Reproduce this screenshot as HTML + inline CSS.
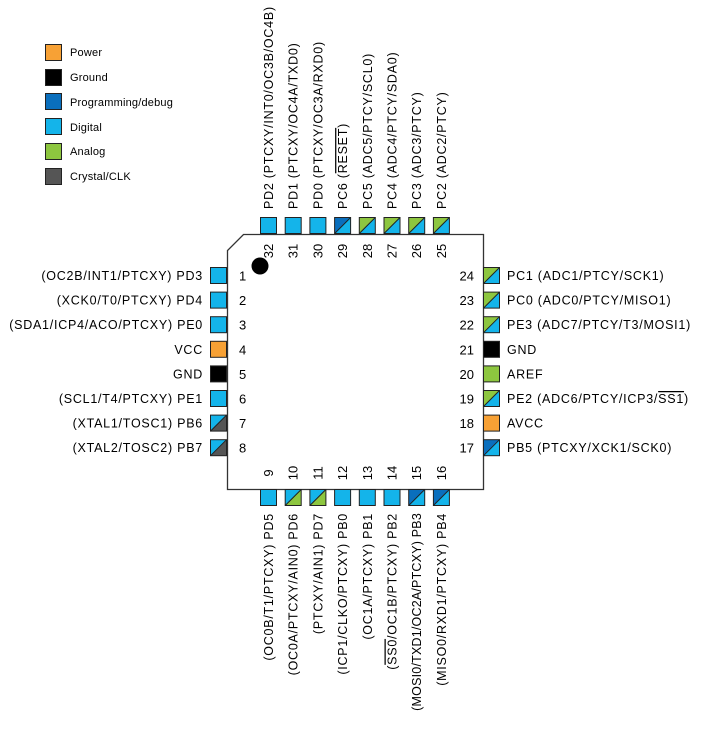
<!DOCTYPE html>
<html><head><meta charset="utf-8"><style>
html,body{margin:0;padding:0;background:#fff;}
svg{display:block;font-family:"Liberation Sans",Arial,sans-serif;}
</style></head><body>
<svg width="704" height="739" viewBox="0 0 704 739" xmlns="http://www.w3.org/2000/svg">
<defs>
<style>
.lg{font-size:11px;fill:#000;letter-spacing:0.2px}
.lb{font-size:12.5px;fill:#000;letter-spacing:0.75px}
.nm{font-size:13px;fill:#000}
.sq{stroke:#222;stroke-width:1}
</style>
</defs>
<g>
<rect x="45.5" y="44.5" width="16" height="16" fill="#f7a135" class="sq"/><text x="70" y="56" class="lg">Power</text>
<rect x="45.5" y="69.5" width="16" height="16" fill="#000" class="sq"/><text x="70" y="81" class="lg">Ground</text>
<rect x="45.5" y="93.5" width="16" height="16" fill="#0a6fbd" class="sq"/><text x="70" y="106" class="lg">Programming/debug</text>
<rect x="45.5" y="118.5" width="16" height="16" fill="#14b4ea" class="sq"/><text x="70" y="131" class="lg">Digital</text>
<rect x="45.5" y="143.5" width="16" height="16" fill="#8dc63f" class="sq"/><text x="70" y="155" class="lg">Analog</text>
<rect x="45.5" y="168.5" width="16" height="16" fill="#555" class="sq"/><text x="70" y="180" class="lg">Crystal/CLK</text>
</g>
<path d="M243.5 234.5 L483.5 234.5 L483.5 489.5 L227.5 489.5 L227.5 250.5 Z" fill="#fff" stroke="#333" stroke-width="1.3"/>
<circle cx="260" cy="266" r="8.5" fill="#000"/>

<g>
<rect x="260.5" y="217.5" width="16" height="16" fill="#14b4ea" class="sq"/>
<rect x="285.2" y="217.5" width="16" height="16" fill="#14b4ea" class="sq"/>
<rect x="309.9" y="217.5" width="16" height="16" fill="#14b4ea" class="sq"/>
<g transform="translate(334.6,217.5)"><path d="M0 0H16L0 16Z" fill="#0a6fbd"/><path d="M16 0V16H0Z" fill="#14b4ea"/><rect width="16" height="16" fill="none" class="sq"/><path d="M0 16L16 0" stroke="#222"/></g>
<g transform="translate(359.3,217.5)"><path d="M0 0H16L0 16Z" fill="#8dc63f"/><path d="M16 0V16H0Z" fill="#14b4ea"/><rect width="16" height="16" fill="none" class="sq"/><path d="M0 16L16 0" stroke="#222"/></g>
<g transform="translate(384,217.5)"><path d="M0 0H16L0 16Z" fill="#8dc63f"/><path d="M16 0V16H0Z" fill="#14b4ea"/><rect width="16" height="16" fill="none" class="sq"/><path d="M0 16L16 0" stroke="#222"/></g>
<g transform="translate(408.7,217.5)"><path d="M0 0H16L0 16Z" fill="#8dc63f"/><path d="M16 0V16H0Z" fill="#14b4ea"/><rect width="16" height="16" fill="none" class="sq"/><path d="M0 16L16 0" stroke="#222"/></g>
<g transform="translate(433.4,217.5)"><path d="M0 0H16L0 16Z" fill="#8dc63f"/><path d="M16 0V16H0Z" fill="#14b4ea"/><rect width="16" height="16" fill="none" class="sq"/><path d="M0 16L16 0" stroke="#222"/></g>
</g>
<g class="lb">
<text transform="translate(273,209) rotate(-90)">PD2 (PTCXY/INT0/OC3B/OC4B)</text>
<text transform="translate(297.7,209) rotate(-90)">PD1 (PTCXY/OC4A/TXD0)</text>
<text transform="translate(322.4,209) rotate(-90)">PD0 (PTCXY/OC3A/RXD0)</text>
<text transform="translate(347.1,209) rotate(-90)">PC6 (<tspan text-decoration="overline">RESET</tspan>)</text>
<text transform="translate(371.8,209) rotate(-90)">PC5 (ADC5/PTCY/SCL0)</text>
<text transform="translate(396.5,209) rotate(-90)">PC4 (ADC4/PTCY/SDA0)</text>
<text transform="translate(421.2,209) rotate(-90)">PC3 (ADC3/PTCY)</text>
<text transform="translate(445.9,209) rotate(-90)">PC2 (ADC2/PTCY)</text>
</g>
<g class="nm" text-anchor="middle">
<text transform="translate(273,251) rotate(-90)">32</text>
<text transform="translate(297.7,251) rotate(-90)">31</text>
<text transform="translate(322.4,251) rotate(-90)">30</text>
<text transform="translate(347.1,251) rotate(-90)">29</text>
<text transform="translate(371.8,251) rotate(-90)">28</text>
<text transform="translate(396.5,251) rotate(-90)">27</text>
<text transform="translate(421.2,251) rotate(-90)">26</text>
<text transform="translate(445.9,251) rotate(-90)">25</text>
</g>

<g>
<rect x="260.5" y="489.5" width="16" height="16" fill="#14b4ea" class="sq"/>
<g transform="translate(285.2,489.5)"><path d="M0 0H16L0 16Z" fill="#14b4ea"/><path d="M16 0V16H0Z" fill="#8dc63f"/><rect width="16" height="16" fill="none" class="sq"/><path d="M0 16L16 0" stroke="#222"/></g>
<g transform="translate(309.9,489.5)"><path d="M0 0H16L0 16Z" fill="#14b4ea"/><path d="M16 0V16H0Z" fill="#8dc63f"/><rect width="16" height="16" fill="none" class="sq"/><path d="M0 16L16 0" stroke="#222"/></g>
<rect x="334.6" y="489.5" width="16" height="16" fill="#14b4ea" class="sq"/>
<rect x="359.3" y="489.5" width="16" height="16" fill="#14b4ea" class="sq"/>
<rect x="384" y="489.5" width="16" height="16" fill="#14b4ea" class="sq"/>
<g transform="translate(408.7,489.5)"><path d="M0 0H16L0 16Z" fill="#0a6fbd"/><path d="M16 0V16H0Z" fill="#14b4ea"/><rect width="16" height="16" fill="none" class="sq"/><path d="M0 16L16 0" stroke="#222"/></g>
<g transform="translate(433.4,489.5)"><path d="M0 0H16L0 16Z" fill="#0a6fbd"/><path d="M16 0V16H0Z" fill="#14b4ea"/><rect width="16" height="16" fill="none" class="sq"/><path d="M0 16L16 0" stroke="#222"/></g>
</g>
<g class="lb" text-anchor="end">
<text transform="translate(273,513) rotate(-90)">(OC0B/T1/PTCXY) PD5</text>
<text transform="translate(297.7,513) rotate(-90)">(OC0A/PTCXY/AIN0) PD6</text>
<text transform="translate(322.4,513) rotate(-90)">(PTCXY/AIN1) PD7</text>
<text transform="translate(347.1,513) rotate(-90)">(ICP1/CLKO/PTCXY) PB0</text>
<text transform="translate(371.8,513) rotate(-90)">(OC1A/PTCXY) PB1</text>
<text transform="translate(396.5,513) rotate(-90)">(<tspan text-decoration="overline">SS0</tspan>/OC1B/PTCXY) PB2</text>
<text transform="translate(421.2,513) rotate(-90)" letter-spacing="0.2">(MOSI0/TXD1/OC2A/PTCXY) PB3</text>
<text transform="translate(445.9,513) rotate(-90)">(MISO0/RXD1/PTCXY) PB4</text>
</g>
<g class="nm" text-anchor="middle">
<text transform="translate(273,473) rotate(-90)">9</text>
<text transform="translate(297.7,473) rotate(-90)">10</text>
<text transform="translate(322.4,473) rotate(-90)">11</text>
<text transform="translate(347.1,473) rotate(-90)">12</text>
<text transform="translate(371.8,473) rotate(-90)">13</text>
<text transform="translate(396.5,473) rotate(-90)">14</text>
<text transform="translate(421.2,473) rotate(-90)">15</text>
<text transform="translate(445.9,473) rotate(-90)">16</text>
</g>

<g>
<rect x="210.5" y="267.5" width="16" height="16" fill="#14b4ea" class="sq"/>
<rect x="210.5" y="292.1" width="16" height="16" fill="#14b4ea" class="sq"/>
<rect x="210.5" y="316.7" width="16" height="16" fill="#14b4ea" class="sq"/>
<rect x="210.5" y="341.3" width="16" height="16" fill="#f7a135" class="sq"/>
<rect x="210.5" y="365.9" width="16" height="16" fill="#000" class="sq"/>
<rect x="210.5" y="390.5" width="16" height="16" fill="#14b4ea" class="sq"/>
<g transform="translate(210.5,415.1)"><path d="M0 0H16L0 16Z" fill="#14b4ea"/><path d="M16 0V16H0Z" fill="#555"/><rect width="16" height="16" fill="none" class="sq"/><path d="M0 16L16 0" stroke="#222"/></g>
<g transform="translate(210.5,439.7)"><path d="M0 0H16L0 16Z" fill="#14b4ea"/><path d="M16 0V16H0Z" fill="#555"/><rect width="16" height="16" fill="none" class="sq"/><path d="M0 16L16 0" stroke="#222"/></g>
</g>
<g class="lb" text-anchor="end">
<text x="203" y="280">(OC2B/INT1/PTCXY) PD3</text>
<text x="203" y="304.6">(XCK0/T0/PTCXY) PD4</text>
<text x="203" y="329.2">(SDA1/ICP4/ACO/PTCXY) PE0</text>
<text x="203" y="353.8">VCC</text>
<text x="203" y="378.4">GND</text>
<text x="203" y="403">(SCL1/T4/PTCXY) PE1</text>
<text x="203" y="427.6">(XTAL1/TOSC1) PB6</text>
<text x="203" y="452.2">(XTAL2/TOSC2) PB7</text>
</g>
<g class="nm">
<text x="239" y="280.5">1</text>
<text x="239" y="305.1">2</text>
<text x="239" y="329.7">3</text>
<text x="239" y="354.3">4</text>
<text x="239" y="378.9">5</text>
<text x="239" y="403.5">6</text>
<text x="239" y="428.1">7</text>
<text x="239" y="452.7">8</text>
</g>

<g>
<g transform="translate(483.5,267.5)"><path d="M0 0H16L0 16Z" fill="#8dc63f"/><path d="M16 0V16H0Z" fill="#14b4ea"/><rect width="16" height="16" fill="none" class="sq"/><path d="M0 16L16 0" stroke="#222"/></g>
<g transform="translate(483.5,292.1)"><path d="M0 0H16L0 16Z" fill="#8dc63f"/><path d="M16 0V16H0Z" fill="#14b4ea"/><rect width="16" height="16" fill="none" class="sq"/><path d="M0 16L16 0" stroke="#222"/></g>
<g transform="translate(483.5,316.7)"><path d="M0 0H16L0 16Z" fill="#8dc63f"/><path d="M16 0V16H0Z" fill="#14b4ea"/><rect width="16" height="16" fill="none" class="sq"/><path d="M0 16L16 0" stroke="#222"/></g>
<rect x="483.5" y="341.3" width="16" height="16" fill="#000" class="sq"/>
<rect x="483.5" y="365.9" width="16" height="16" fill="#8dc63f" class="sq"/>
<g transform="translate(483.5,390.5)"><path d="M0 0H16L0 16Z" fill="#8dc63f"/><path d="M16 0V16H0Z" fill="#14b4ea"/><rect width="16" height="16" fill="none" class="sq"/><path d="M0 16L16 0" stroke="#222"/></g>
<rect x="483.5" y="415.1" width="16" height="16" fill="#f7a135" class="sq"/>
<g transform="translate(483.5,439.7)"><path d="M0 0H16L0 16Z" fill="#0a6fbd"/><path d="M16 0V16H0Z" fill="#14b4ea"/><rect width="16" height="16" fill="none" class="sq"/><path d="M0 16L16 0" stroke="#222"/></g>
</g>
<g class="lb">
<text x="507" y="280">PC1 (ADC1/PTCY/SCK1)</text>
<text x="507" y="304.6">PC0 (ADC0/PTCY/MISO1)</text>
<text x="507" y="329.2">PE3 (ADC7/PTCY/T3/MOSI1)</text>
<text x="507" y="353.8">GND</text>
<text x="507" y="378.4">AREF</text>
<text x="507" y="403">PE2 (ADC6/PTCY/ICP3/<tspan text-decoration="overline">SS1</tspan>)</text>
<text x="507" y="427.6">AVCC</text>
<text x="507" y="452.2">PB5 (PTCXY/XCK1/SCK0)</text>
</g>
<g class="nm" text-anchor="end">
<text x="474" y="280.5">24</text>
<text x="474" y="305.1">23</text>
<text x="474" y="329.7">22</text>
<text x="474" y="354.3">21</text>
<text x="474" y="378.9">20</text>
<text x="474" y="403.5">19</text>
<text x="474" y="428.1">18</text>
<text x="474" y="452.7">17</text>
</g>
</svg>
</body></html>
